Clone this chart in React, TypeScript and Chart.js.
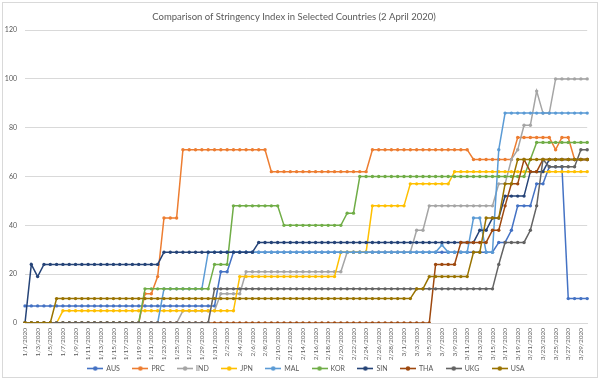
import React, { useEffect, useRef } from "react";
import { Chart, registerables } from "chart.js";
Chart.register(...registerables);

const dates = [
  "1/1/2020","1/2/2020","1/3/2020","1/4/2020","1/5/2020","1/6/2020","1/7/2020","1/8/2020","1/9/2020","1/10/2020",
  "1/11/2020","1/12/2020","1/13/2020","1/14/2020","1/15/2020","1/16/2020","1/17/2020","1/18/2020","1/19/2020","1/20/2020",
  "1/21/2020","1/22/2020","1/23/2020","1/24/2020","1/25/2020","1/26/2020","1/27/2020","1/28/2020","1/29/2020","1/30/2020",
  "1/31/2020","2/1/2020","2/2/2020","2/3/2020","2/4/2020","2/5/2020","2/6/2020","2/7/2020","2/8/2020","2/9/2020",
  "2/10/2020","2/11/2020","2/12/2020","2/13/2020","2/14/2020","2/15/2020","2/16/2020","2/17/2020","2/18/2020","2/19/2020",
  "2/20/2020","2/21/2020","2/22/2020","2/23/2020","2/24/2020","2/25/2020","2/26/2020","2/27/2020","2/28/2020","2/29/2020",
  "3/1/2020","3/2/2020","3/3/2020","3/4/2020","3/5/2020","3/6/2020","3/7/2020","3/8/2020","3/9/2020","3/10/2020",
  "3/11/2020","3/12/2020","3/13/2020","3/14/2020","3/15/2020","3/16/2020","3/17/2020","3/18/2020","3/19/2020","3/20/2020",
  "3/21/2020","3/22/2020","3/23/2020","3/24/2020","3/25/2020","3/26/2020","3/27/2020","3/28/2020","3/29/2020","3/30/2020"
];

const AUS = [
  7,7,7,7,7,7,7,7,7,7,
  7,7,7,7,7,7,7,7,7,7,
  7,7,7,7,7,7,7,7,7,7,
  7,21,21,29,29,29,29,29,29,29,
  29,29,29,29,29,29,29,29,29,29,
  29,29,29,29,29,29,29,29,29,29,
  29,29,29,29,29,29,29,29,29,29,
  29,29,29,29,29,33,33,38,48,48,
  48,57,57,64,64,64,10,10,10,10
];
const PRC = [
  0,0,0,0,0,0,0,0,0,0,
  0,0,0,0,0,0,0,0,0,12,
  12,19,43,43,43,71,71,71,71,71,
  71,71,71,71,71,71,71,71,71,62,
  62,62,62,62,62,62,62,62,62,62,
  62,62,62,62,62,71,71,71,71,71,
  71,71,71,71,71,71,71,71,71,71,
  71,67,67,67,67,67,67,67,76,76,
  76,76,76,76,71,76,76,67,67,67
];
const IND = [
  0,0,0,0,0,0,0,0,0,0,
  0,0,0,0,0,0,0,0,0,0,
  0,0,0,0,0,5,5,5,5,5,
  5,12,12,12,12,21,21,21,21,21,
  21,21,21,21,21,21,21,21,21,21,
  21,29,29,29,29,29,29,29,29,29,
  29,29,38,38,48,48,48,48,48,48,
  48,48,48,48,48,57,57,67,71,81,
  81,95,86,86,100,100,100,100,100,100
];
const JPN = [
  0,0,0,0,0,0,5,5,5,5,
  5,5,5,5,5,5,5,5,5,5,
  5,5,5,5,5,5,5,5,5,5,
  5,5,5,5,19,19,19,19,19,19,
  19,19,19,19,19,19,19,19,19,19,
  29,29,29,29,29,48,48,48,48,48,
  48,57,57,57,57,57,57,57,62,62,
  62,62,62,62,62,62,62,62,62,62,
  62,62,62,62,62,62,62,62,62,62
];
const MAL = [
  0,0,0,0,0,0,0,0,0,0,
  0,0,0,0,0,0,0,0,0,0,
  0,0,14,14,14,14,14,14,14,29,
  29,29,29,29,29,29,29,29,29,29,
  29,29,29,29,29,29,29,29,29,29,
  29,29,29,29,29,29,29,29,29,29,
  29,29,29,29,29,29,32,29,29,29,
  29,43,43,29,29,71,86,86,86,86,
  86,86,86,86,86,86,86,86,86,86
];
const KOR = [
  0,0,0,0,0,0,0,0,0,0,
  0,0,0,0,0,0,0,0,0,14,
  14,14,14,14,14,14,14,14,14,14,
  24,24,24,48,48,48,48,48,48,48,
  48,40,40,40,40,40,40,40,40,40,
  40,45,45,60,60,60,60,60,60,60,
  60,60,60,60,60,60,60,60,60,60,
  60,60,60,60,60,60,60,60,60,60,
  67,74,74,74,74,74,74,74,74,74
];
const SIN = [
  0,24,19,24,24,24,24,24,24,24,
  24,24,24,24,24,24,24,24,24,24,
  24,24,29,29,29,29,29,29,29,29,
  29,29,29,29,29,29,29,33,33,33,
  33,33,33,33,33,33,33,33,33,33,
  33,33,33,33,33,33,33,33,33,33,
  33,33,33,33,33,33,33,33,33,33,
  33,33,38,38,43,43,52,52,52,52,
  62,62,62,67,67,67,67,67,67,67
];
const THA = [
  0,0,0,0,0,0,0,0,0,0,
  0,0,0,0,0,0,0,0,0,0,
  0,0,0,0,0,0,0,0,0,0,
  0,0,0,0,0,0,0,0,0,0,
  0,0,0,0,0,0,0,0,0,0,
  0,0,0,0,0,0,0,0,0,0,
  0,0,0,0,0,24,24,24,24,33,
  33,33,33,33,38,38,48,57,57,67,
  62,62,67,67,67,67,67,67,67,67
];
const UKG = [
  0,0,0,0,0,0,0,0,0,0,
  0,0,0,0,0,0,0,0,0,0,
  0,0,0,0,0,0,0,0,0,0,
  14,14,14,14,14,14,14,14,14,14,
  14,14,14,14,14,14,14,14,14,14,
  14,14,14,14,14,14,14,14,14,14,
  14,14,14,14,14,14,14,14,14,14,
  14,14,14,14,14,24,33,33,33,33,
  38,48,67,64,64,64,64,64,71,71
];
const USA = [
  0,0,0,0,0,10,10,10,10,10,
  10,10,10,10,10,10,10,10,10,10,
  10,10,10,10,10,10,10,10,10,10,
  10,10,10,10,10,10,10,10,10,10,
  10,10,10,10,10,10,10,10,10,10,
  10,10,10,10,10,10,10,10,10,10,
  10,10,14,14,19,19,19,19,19,19,
  19,29,29,43,43,43,57,57,67,67,
  67,67,67,67,67,67,67,67,67,67
];

const seriesNames = ["AUS", "PRC", "IND", "JPN", "MAL", "KOR", "SIN", "THA", "UKG", "USA"];
const seriesColors = ["#4472C4", "#ED7D31", "#A5A5A5", "#FFC000", "#5B9BD5", "#70AD47", "#264478", "#9E480E", "#636363", "#997300"];
const titleText = "Comparison of Stringency Index in Selected Countries (2 April 2020)";
const yMin = 0;
const yMax = 120;
const yStep = 20;

export default function App() {
  const ref = useRef<HTMLCanvasElement>(null);
  useEffect(() => {
    const values = [AUS, PRC, IND, JPN, MAL, KOR, SIN, THA, UKG, USA];
    const makeMarker = (color: string) => {
      const c = document.createElement("canvas");
      c.width = 16;
      c.height = 7;
      const g = c.getContext("2d")!;
      g.strokeStyle = color;
      g.lineWidth = 1.6;
      g.beginPath();
      g.moveTo(0, 3.5);
      g.lineTo(16, 3.5);
      g.stroke();
      g.fillStyle = color;
      g.beginPath();
      g.arc(8, 3.5, 2.2, 0, Math.PI * 2);
      g.fill();
      return c;
    };
    const markers = seriesColors.map(makeMarker);
    const font = { family: "Lato", size: 7 };
    const chart = new Chart(ref.current!, {
      type: "line",
      data: {
        labels: dates,
        datasets: seriesNames.map((n, i) => ({
          label: n,
          data: values[i],
          borderColor: seriesColors[i],
          backgroundColor: seriesColors[i],
          pointBackgroundColor: seriesColors[i],
          pointBorderWidth: 0,
          pointRadius: 1.7,
          borderWidth: 1.5,
          tension: 0,
          fill: false,
          order: 9 - i,
        })),
      },
      options: {
        animation: false,
        responsive: false,
        events: [],
        layout: { padding: { left: 0, right: 12, top: 0, bottom: 0 } },
        plugins: {
          title: {
            display: true,
            text: titleText,
            color: "#595959",
            font: { family: "Lato", size: 9.5, weight: "normal" },
            padding: { top: 11, bottom: 7.7 },
          },
          legend: {
            position: "bottom",
            fullSize: false,
            maxHeight: 31.5,
            labels: {
              usePointStyle: true,
              pointStyleWidth: 15,
              boxHeight: 7,
              padding: 13,
              color: "#595959",
              font,
              generateLabels: () =>
                seriesNames.map((n, i) => ({
                  text: n,
                  fillStyle: seriesColors[i],
                  strokeStyle: seriesColors[i],
                  lineWidth: 0,
                  pointStyle: markers[i],
                  hidden: false,
                  datasetIndex: i,
                  fontColor: "#595959",
                })),
            },
          },
          tooltip: { enabled: false },
        },
        scales: {
          x: {
            grid: { display: false, drawTicks: false },
            border: { display: true, color: "#d9d9d9" },
            ticks: {
              autoSkip: false,
              maxRotation: 90,
              minRotation: 90,
              padding: 5,
              color: "#595959",
              font: { family: "Lato", size: 6.5 },
              callback: (_v: any, idx: number) => (idx % 2 === 0 ? dates[idx] : ""),
            },
            afterFit: (s: any) => {
              s.height = 29;
              s._computeLabelArea = () => undefined;
            },
          },
          y: {
            min: yMin,
            max: yMax,
            ticks: { stepSize: yStep, padding: 8, color: "#595959", font },
            grid: { color: "#d9d9d9", drawTicks: false },
            border: { display: false },
            afterFit: (s: any) => {
              s.width = 25;
            },
          },
        },
      },
    } as any);
    return () => chart.destroy();
  }, []);
  return (
    <div style={{ position: "fixed", left: 0, top: 0, width: 600, height: 382, background: "#fff" }}>
      <canvas ref={ref} width={600} height={382} style={{ display: "block" }} />
      <div
        style={{
          position: "absolute",
          left: 2,
          top: 2,
          width: 594,
          height: 374,
          border: "1px solid #d9d9d9",
          pointerEvents: "none",
        }}
      />
    </div>
  );
}
